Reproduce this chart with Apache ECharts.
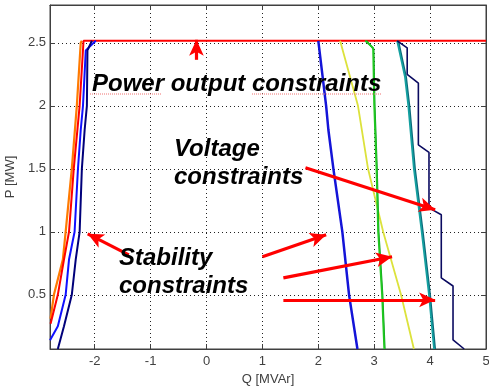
<!DOCTYPE html>
<html>
<head>
<meta charset="utf-8">
<script src="https://cdn.jsdelivr.net/npm/echarts@6/dist/echarts.min.js"></script>
<style>html,body{margin:0;padding:0;background:#fff}#c{width:489px;height:386px}</style>
</head>
<body>
<div id="c"></div>
<script>
// Tick labels
const xTicks = [-2, -1, 0, 1, 2, 3, 4, 5];
const yTicks = [0.5, 1, 1.5, 2, 2.5];

// Curves [Q, P]
const orangeLeft = [[-2.79,0.31],[-2.73,0.5],[-2.57,0.78],[-2.52,1.0],[-2.41,1.5],[-2.32,2.0],[-2.25,2.5],[-2.23,2.516]];
const redLimit = [[-2.79,0.27],[-2.66,0.5],[-2.55,0.78],[-2.46,1.0],[-2.375,1.5],[-2.27,2.0],[-2.2,2.516],[5,2.516]];
const blueLeft = [[-2.8,0.14],[-2.66,0.25],[-2.52,0.5],[-2.46,0.78],[-2.36,1.0],[-2.30,1.5],[-2.25,1.81],[-2.21,2.0],[-2.16,2.44],[-1.98,2.516]];
const navyLeft = [[-2.66,0.07],[-2.55,0.25],[-2.41,0.5],[-2.34,0.78],[-2.27,1.0],[-2.23,1.5],[-2.18,1.81],[-2.14,2.0],[-2.13,2.44],[-2.05,2.516]];
const blueRight = [[2.0,2.516],[2.14,2.0],[2.18,1.81],[2.27,1.5],[2.43,1.0],[2.55,0.5],[2.70,0.07]];
const yellowRight = [[2.39,2.516],[2.71,2.0],[2.89,1.5],[3.16,1.0],[3.48,0.5],[3.71,0.07]];
const greenRight = [[2.84,2.516],[2.98,2.46],[3.0,2.0],[3.04,1.5],[3.07,1.0],[3.14,0.5],[3.18,0.07]];
const greenDark = [[2.86,2.516],[2.99,2.45],[3.01,2.0],[3.05,1.5],[3.08,1.0],[3.15,0.5],[3.19,0.07]];
const tealRight = [[3.41,2.516],[3.55,2.23],[3.61,2.0],[3.71,1.5],[3.85,1.0],[3.98,0.5],[4.07,0.07]];
const tealDark = [[3.43,2.516],[3.57,2.23],[3.63,2.0],[3.73,1.5],[3.87,1.0],[4.0,0.5],[4.09,0.07]];
const navyRight = [[3.41,2.516],[3.59,2.46],[3.59,2.25],[3.79,2.18],[3.79,1.69],[3.98,1.63],[3.98,1.19],[4.20,1.135],[4.20,0.635],[4.41,0.57],[4.41,0.143],[4.61,0.07]];

// Annotation arrows [from, tip]
const arrows = [
  [[-0.18,2.365],[-0.18,2.524]],
  [[-1.39,0.817],[-2.125,0.984]],
  [[1.0,0.802],[2.14,0.976]],
  [[1.375,0.635],[3.32,0.802]],
  [[1.375,0.46],[4.09,0.46]],
  [[1.77,1.508],[4.09,1.175]]
];

const chart = echarts.init(document.getElementById('c'), null, {renderer:'canvas'});
const FONT = '"Liberation Sans", Arial, sans-serif';
const axisCol = '#404040';

function line(data, color, width){
  return {type:'line', data:data, symbol:'none', showSymbol:false, clip:true,
    lineStyle:{color:color, width:width}, itemStyle:{color:color}, z:3, silent:true};
}

const series = [
  line(orangeLeft, '#ff7a00', 2.2),
  line(redLimit, '#ff0000', 2),
  line(blueLeft, '#1010ff', 2),
  line(navyLeft, '#00007a', 2),
  line(blueRight, '#1414d8', 2.5),
  line(yellowRight, '#dce23c', 1.8),
  line(greenDark, '#0c9a20', 1.6),
  line(greenRight, '#20c820', 1.8),
  line(tealDark, '#0a6a7a', 1.8),
  line(tealRight, '#14a0a0', 1.8),
  line(navyRight, '#0a0a60', 1.6),
  {type:'line', data:[], symbol:'none', silent:true, z:10,
    markLine:{silent:true, animation:false, symbol:['none','arrow'], symbolSize:[11,16],
      label:{show:false}, emphasis:{disabled:true},
      lineStyle:{color:'#ff0000', width:3.2, type:'solid'},
      data: arrows.map(a => [{coord:a[0]},{coord:a[1]}])}}
];

const splitStyle = {show:true, lineStyle:{color:'#222', width:1, type:[1,3]}};

const option = {
  animation:false,
  backgroundColor:'#fff',
  grid: {left:50, right:3, top:5, bottom:37, outerBoundsMode:'none', containLabel:false,
    show:true, borderColor:axisCol, borderWidth:1},
  xAxis:[{
    type:'value', min:-2.8, max:5, position:'bottom',
    name:'Q [MVAr]', nameLocation:'middle', nameGap:22,
    nameTextStyle:{fontFamily:FONT, fontSize:13, color:axisCol},
    axisLine:{show:true, onZero:false, lineStyle:{color:axisCol, width:1}},
    axisTick:{show:true, inside:true, length:5, customValues:xTicks, lineStyle:{color:axisCol}},
    axisLabel:{show:true, customValues:xTicks, margin:6, fontFamily:FONT, fontSize:13, color:axisCol, hideOverlap:false},
    splitLine:splitStyle
  },{
    type:'value', min:-2.8, max:5, position:'top',
    axisLine:{show:true, onZero:false, lineStyle:{color:axisCol, width:1}},
    axisTick:{show:true, inside:true, length:5, customValues:xTicks, lineStyle:{color:axisCol}},
    axisLabel:{show:false, customValues:xTicks}, splitLine:{show:false}
  }],
  yAxis:[{
    type:'value', min:0.07, max:2.8, position:'left',
    name:'P [MW]', nameLocation:'middle', nameGap:28, nameRotate:90,
    nameTextStyle:{fontFamily:FONT, fontSize:13, color:axisCol},
    axisLine:{show:true, onZero:false, lineStyle:{color:axisCol, width:1}},
    axisTick:{show:true, inside:true, length:5, customValues:yTicks, lineStyle:{color:axisCol}},
    axisLabel:{show:true, customValues:yTicks, margin:4, fontFamily:FONT, fontSize:13, color:axisCol},
    splitLine:splitStyle
  },{
    type:'value', min:0.07, max:2.8, position:'right',
    axisLine:{show:true, onZero:false, lineStyle:{color:axisCol, width:1}},
    axisTick:{show:true, inside:true, length:5, customValues:yTicks, lineStyle:{color:axisCol}},
    axisLabel:{show:false, customValues:yTicks}, splitLine:{show:false}
  }],
  series: series,
  graphic:[
    {type:'text', x:92, y:84, z:20, silent:true,
      style:{text:'Power output constraints', font:'italic bold 24px '+FONT, fill:'#000', verticalAlign:'middle', align:'left'}},
    {type:'text', x:174, y:149, z:20, silent:true,
      style:{text:'Voltage', font:'italic bold 24px '+FONT, fill:'#000', verticalAlign:'middle', align:'left'}},
    {type:'text', x:174, y:177, z:20, silent:true,
      style:{text:'constraints', font:'italic bold 24px '+FONT, fill:'#000', verticalAlign:'middle', align:'left'}},
    {type:'text', x:119, y:258, z:20, silent:true,
      style:{text:'Stability', font:'italic bold 24px '+FONT, fill:'#000', verticalAlign:'middle', align:'left'}},
    {type:'text', x:119, y:286, z:20, silent:true,
      style:{text:'constraints', font:'italic bold 24px '+FONT, fill:'#000', verticalAlign:'middle', align:'left'}},
    {type:'line', z:19, silent:true, shape:{x1:90,y1:94,x2:162,y2:94}, style:{stroke:'#f07070', lineWidth:1, lineDash:[1,1]}},
    {type:'line', z:19, silent:true, shape:{x1:252,y1:94,x2:382,y2:94}, style:{stroke:'#f07070', lineWidth:1, lineDash:[1,1]}}
  ]
};
chart.setOption(option);
</script>
</body>
</html>
